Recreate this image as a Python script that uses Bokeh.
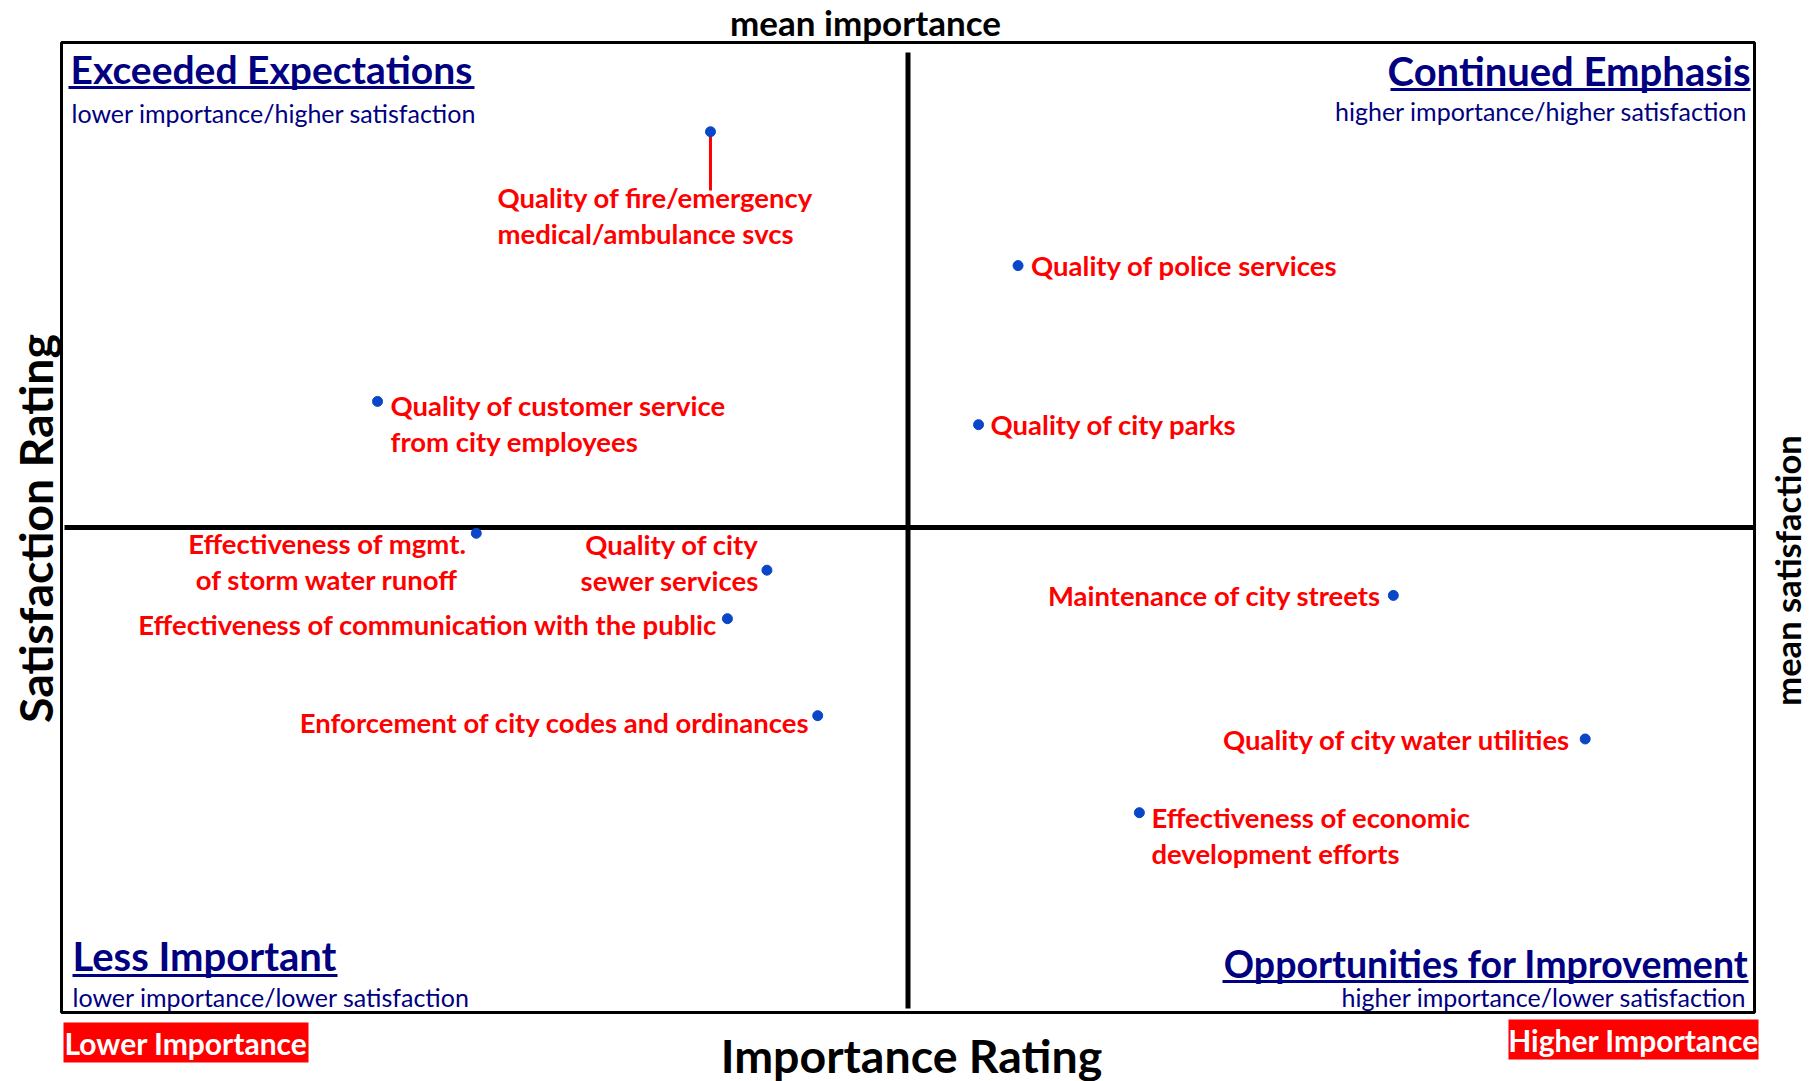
from bokeh.plotting import figure
from bokeh.models import ColumnDataSource, Range1d
from bokeh.core.properties import value
from bokeh.embed import file_html
from bokeh.resources import INLINE
import math

# ---------------- data ----------------
services = [
    "Quality of fire/emergency\nmedical/ambulance svcs",
    "Quality of police services",
    "Quality of customer service\nfrom city employees",
    "Quality of city parks",
    "Effectiveness of mgmt.\nof storm water runoff",
    "Quality of city\nsewer services",
    "Effectiveness of communication with the public",
    "Enforcement of city codes and ordinances",
    "Maintenance of city streets",
    "Quality of city water utilities",
    "Effectiveness of economic\ndevelopment efforts",
]
importance = [23.0, 33.9, 11.2, 32.5, 14.7, 25.0, 23.6, 26.8, 47.2, 54.0, 38.2]
satisfaction = [85.4, 78.5, 71.5, 70.3, 64.7, 62.8, 60.3, 55.3, 61.5, 54.1, 50.3]
mean_importance = 30.0
mean_satisfaction = 65.0
x_lim = (0.0, 60.0)
y_lim = (40.0, 90.0)

quadrant_titles = ["Exceeded Expectations", "Continued Emphasis",
                   "Less Important", "Opportunities for Improvement"]
quadrant_subtitles = ["lower importance/higher satisfaction",
                      "higher importance/higher satisfaction",
                      "lower importance/lower satisfaction",
                      "higher importance/lower satisfaction"]

# ---------------- layout (label placement, pixels) ----------------
label_align = ["left", "left", "left", "left", "center", "right",
               "right", "right", "right", "right", "left"]
label_dx = [-213, 13, 13, 12, -149, -8, -10, -8, -12, -13, 12]
label_dy = [84, 0, 22, 0, 28, -8, 6, 7, 0, 1, 23]

W, H = 1816, 1081
FL, FR, FT, FB = 61, 1754, 42, 1012  # quadrant box edges in canvas pixels

def X(px):
    return x_lim[0] + (px - FL) / (FR - FL) * (x_lim[1] - x_lim[0])

def Y(py):
    return y_lim[0] + (FB - py) / (FB - FT) * (y_lim[1] - y_lim[0])

FONT = value("Lato")
NAVY = "#000080"
RED = "#FF0000"
BLUE = "#0A46C8"

p = figure(width=W, height=H, output_backend="svg", toolbar_location=None,
           x_range=Range1d(X(0), X(W)), y_range=Range1d(Y(H), Y(0)),
           min_border=0)
p.xaxis.visible = False
p.yaxis.visible = False
p.grid.visible = False
p.outline_line_color = None
p.background_fill_color = "white"
p.border_fill_color = "white"

# quadrant box
p.quad(left=[x_lim[0]], right=[x_lim[1]], bottom=[y_lim[0]], top=[y_lim[1]],
       fill_alpha=0, line_color="black", line_width=3)

# mean lines
p.segment(x0=[X(64)], y0=[mean_satisfaction], x1=[x_lim[1]], y1=[mean_satisfaction],
          line_color="black", line_width=5)
p.segment(x0=[mean_importance], y0=[Y(52)], x1=[mean_importance], y1=[Y(1008)],
          line_color="black", line_width=5)

# connector for fire label
p.segment(x0=[importance[0]], y0=[satisfaction[0]], x1=[importance[0]], y1=[Y(190)],
          line_color=RED, line_width=3)

src = ColumnDataSource(dict(x=importance, y=satisfaction, t=services,
                            align=label_align, dx=label_dx, dy=label_dy))
p.scatter("x", "y", source=src, size=10, color=BLUE, line_color=BLUE)
p.text("x", "y", text="t", source=src, x_offset="dx", y_offset="dy",
       text_align="align", text_baseline="middle", text_color=RED,
       text_font=FONT, text_font_style="bold", text_font_size="27.5px",
       text_line_height=1.1)

# quadrant titles and subtitles
title_pos = [(70, 68, "left"), (1750, 70, "right"), (72, 955, "left"), (1748, 963, "right")]
title_size = ["39px", "40px", "40px", "37.5px"]
sub_pos = [(71, 112, "left"), (1747, 110, "right"), (72, 996, "left"), (1746, 996, "right")]
underlines = [(68, 474, 87), (1390, 1750, 89), (72, 337, 975), (1222, 1748, 981)]
for i in range(4):
    tx, ty, al = title_pos[i]
    p.text(x=[X(tx)], y=[Y(ty)], text=[quadrant_titles[i]], text_align=al,
           text_baseline="middle", text_font=FONT, text_font_style="bold",
           text_font_size=title_size[i], text_color=NAVY)
    sx, sy, sal = sub_pos[i]
    p.text(x=[X(sx)], y=[Y(sy)], text=[quadrant_subtitles[i]], text_align=sal,
           text_baseline="middle", text_font=FONT, text_font_size="25px",
           text_color=NAVY)
    ux0, ux1, uy = underlines[i]
    p.segment(x0=[X(ux0)], y0=[Y(uy)], x1=[X(ux1)], y1=[Y(uy)],
              line_color=NAVY, line_width=3)

# outer axis-like labels
p.text(x=[X(865)], y=[Y(21)], text=["mean importance"], text_align="center",
       text_baseline="middle", text_font=FONT, text_font_style="bold",
       text_font_size="35px", text_color="black")
p.text(x=[X(1787)], y=[Y(570)], text=["mean satisfaction"], text_align="center",
       text_baseline="middle", angle=math.pi / 2, text_font=FONT,
       text_font_style="bold", text_font_size="34.5px", text_color="black")
p.text(x=[X(34)], y=[Y(528)], text=["Satisfaction Rating"], text_align="center",
       text_baseline="middle", angle=math.pi / 2, text_font=FONT,
       text_font_style="bold", text_font_size="46.5px", text_color="black")
p.text(x=[X(911)], y=[Y(1054)], text=["Importance Rating"], text_align="center",
       text_baseline="middle", text_font=FONT, text_font_style="bold",
       text_font_size="46.5px", text_color="black")

# red boxes
p.quad(left=[X(63), X(1508)], right=[X(308), X(1758)],
       bottom=[Y(1062), Y(1059)], top=[Y(1022), Y(1019)],
       fill_color=RED, line_color=None)
p.text(x=[X(185.5), X(1633)], y=[Y(1042), Y(1039)],
       text=["Lower Importance", "Higher Importance"], text_align="center",
       text_baseline="middle", text_font=FONT, text_font_style="bold",
       text_font_size="30px", text_color="white")

open("out.html", "w").write(file_html(p, INLINE))
